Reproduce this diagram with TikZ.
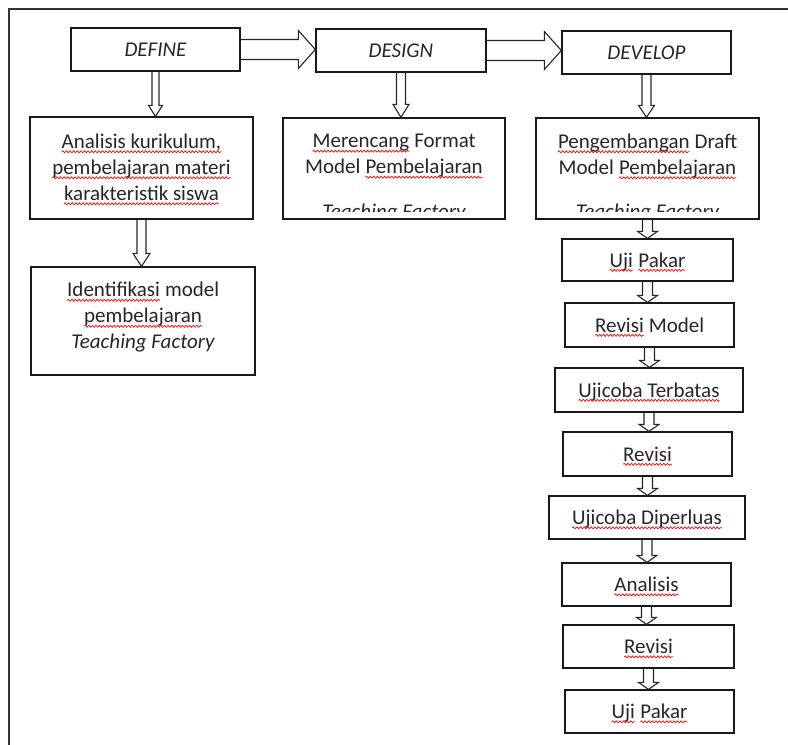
\documentclass[tikz,border=0pt]{standalone}
\usepackage{fontspec}
\setmainfont{Carlito}
\usetikzlibrary{calc,decorations.pathmorphing}
\newcommand\sq[1]{\tikz[baseline=(sqw.base),x=1cm,y=1cm]{\node[inner sep=0pt,outer sep=0pt,draw=none,minimum width=0pt,minimum height=0pt,text height=,text depth=,anchor=center] (sqw) {#1};\draw[red,line width=0.7pt,decorate,decoration={snake,amplitude=1pt,segment length=3.6pt}] ([yshift=-3.3pt]sqw.base west) -- ([yshift=-3.3pt]sqw.base east);}}
\newcommand\harr[2]{\draw[blk] let \p1=(#1.east), \p2=(#2.west) in (\x1,\y1+10pt) -- (\x2-17pt,\y1+10pt) -- (\x2-17pt,\y1+19pt) -- (\x2,\y1) -- (\x2-17pt,\y1-19pt) -- (\x2-17pt,\y1-10pt) -- (\x1,\y1-10pt);}
\newcommand\varr[5]{\draw[blk] let \p1=(#4.south), \p2=(#5.north) in (\x1-#1,\y1) -- (\x1-#1,\y2+#3) -- (\x1-#2,\y2+#3) -- (\x1,\y2) -- (\x1+#2,\y2+#3) -- (\x1+#1,\y2+#3) -- (\x1+#1,\y1);}
\begin{document}
\begin{tikzpicture}[x=1pt,y=-1pt,
  box/.style={draw=black!90,line width=1.3pt,inner sep=0pt,align=center,
    text height=18pt,text depth=4pt,
    font=\fontsize{21}{26}\selectfont,text=black!85},
  frame/.style={draw=black!90,line width=1.3pt,inner sep=0pt},
  txt/.style={inner sep=0pt,align=center,font=\fontsize{21}{26}\selectfont,text=black!85},
  blk/.style={draw=black!85,line width=1.1pt,line join=miter}]
\useasboundingbox (0,0) rectangle (788,745);
\draw[line width=1.3pt,black!80] (9,750) -- (9,9) -- (790,9);
% top row
\node[box,minimum width=169,minimum height=43] (define) at (155.5,49.5) {\itshape DEFINE};
\node[box,minimum width=170,minimum height=43] (design) at (401,50.5) {\itshape DESIGN};
\node[box,minimum width=169,minimum height=43] (develop) at (646.5,52.5) {\itshape DEVELOP};
\harr{define}{design}
\harr{design}{develop}
% second row
\node[frame,minimum width=223,minimum height=102] (anal) at (141.5,168) {};
\node[txt] (analt) at (141.5,169.5) {\sq{Analisis kurikulum,}\\\sq{pembelajaran materi}\\\sq{karakteristik siswa}};
\node[frame,minimum width=222,minimum height=101] (meren) at (394,168.5) {};
\node[frame,minimum width=223,minimum height=101] (peng) at (647.5,168.5) {};
\node[txt] (merent) at (394,156.5) {\sq{Merencang} Format\\Model \sq{Pembelajaran}};
\node[txt] (pengt) at (647.5,156.5) {\sq{Pengembangan} Draft\\Model \sq{Pembelajaran}};
\begin{scope}
\clip (meren.north west) rectangle ($(meren.south east)+(0,-8.5)$);
\node[txt,anchor=base] (merenf) at (394,218) {\itshape Teaching Factory};
\end{scope}
\begin{scope}
\clip (peng.north west) rectangle ($(peng.south east)+(0,-8.5)$);
\node[txt,anchor=base] (pengf) at (647.5,218) {\itshape Teaching Factory};
\end{scope}
\varr{3.5pt}{7pt}{11pt}{define}{anal}
\varr{4.5pt}{8pt}{13pt}{design}{meren}
\varr{4.5pt}{8pt}{12pt}{develop}{peng}
% left column
\node[frame,minimum width=224,minimum height=108] (ident) at (143,321) {};
\node[txt] (identt) at (143,317.5) {\sq{Identifikasi} model\\\sq{pembelajaran}\\\itshape Teaching Factory};
\varr{4.5pt}{8.5pt}{13pt}{anal}{ident}
% right column
\node[box,minimum width=171,minimum height=42] (uji1) at (647.5,260) {\sq{Uji} \sq{Pakar}};
\node[box,minimum width=169,minimum height=44] (revm) at (649.5,325) {\sq{Revisi} Model};
\node[box,minimum width=188,minimum height=44] (ujit) at (649,390) {\sq{Ujicoba Terbatas}};
\node[box,minimum width=169,minimum height=44] (rev1) at (647.5,454) {\sq{Revisi}};
\node[box,minimum width=196,minimum height=43] (ujid) at (647,517.5) {\sq{Ujicoba Diperluas}};
\node[box,minimum width=169,minimum height=43] (ana2) at (646.5,584.5) {\sq{Analisis}};
\node[box,minimum width=171,minimum height=43] (rev2) at (648.5,646.5) {\sq{Revisi}};
\node[box,minimum width=169,minimum height=43] (uji2) at (649.5,711.5) {\sq{Uji} \sq{Pakar}};
\varr{5pt}{10pt}{7pt}{peng}{uji1}
\varr{5pt}{10pt}{7pt}{uji1}{revm}
\varr{5pt}{10pt}{7pt}{revm}{ujit}
\varr{5pt}{10pt}{7pt}{ujit}{rev1}
\varr{5pt}{10pt}{7pt}{rev1}{ujid}
\varr{5pt}{10pt}{7pt}{ujid}{ana2}
\varr{5pt}{10pt}{7pt}{ana2}{rev2}
\varr{5pt}{10pt}{7pt}{rev2}{uji2}
\end{tikzpicture}
\end{document}
